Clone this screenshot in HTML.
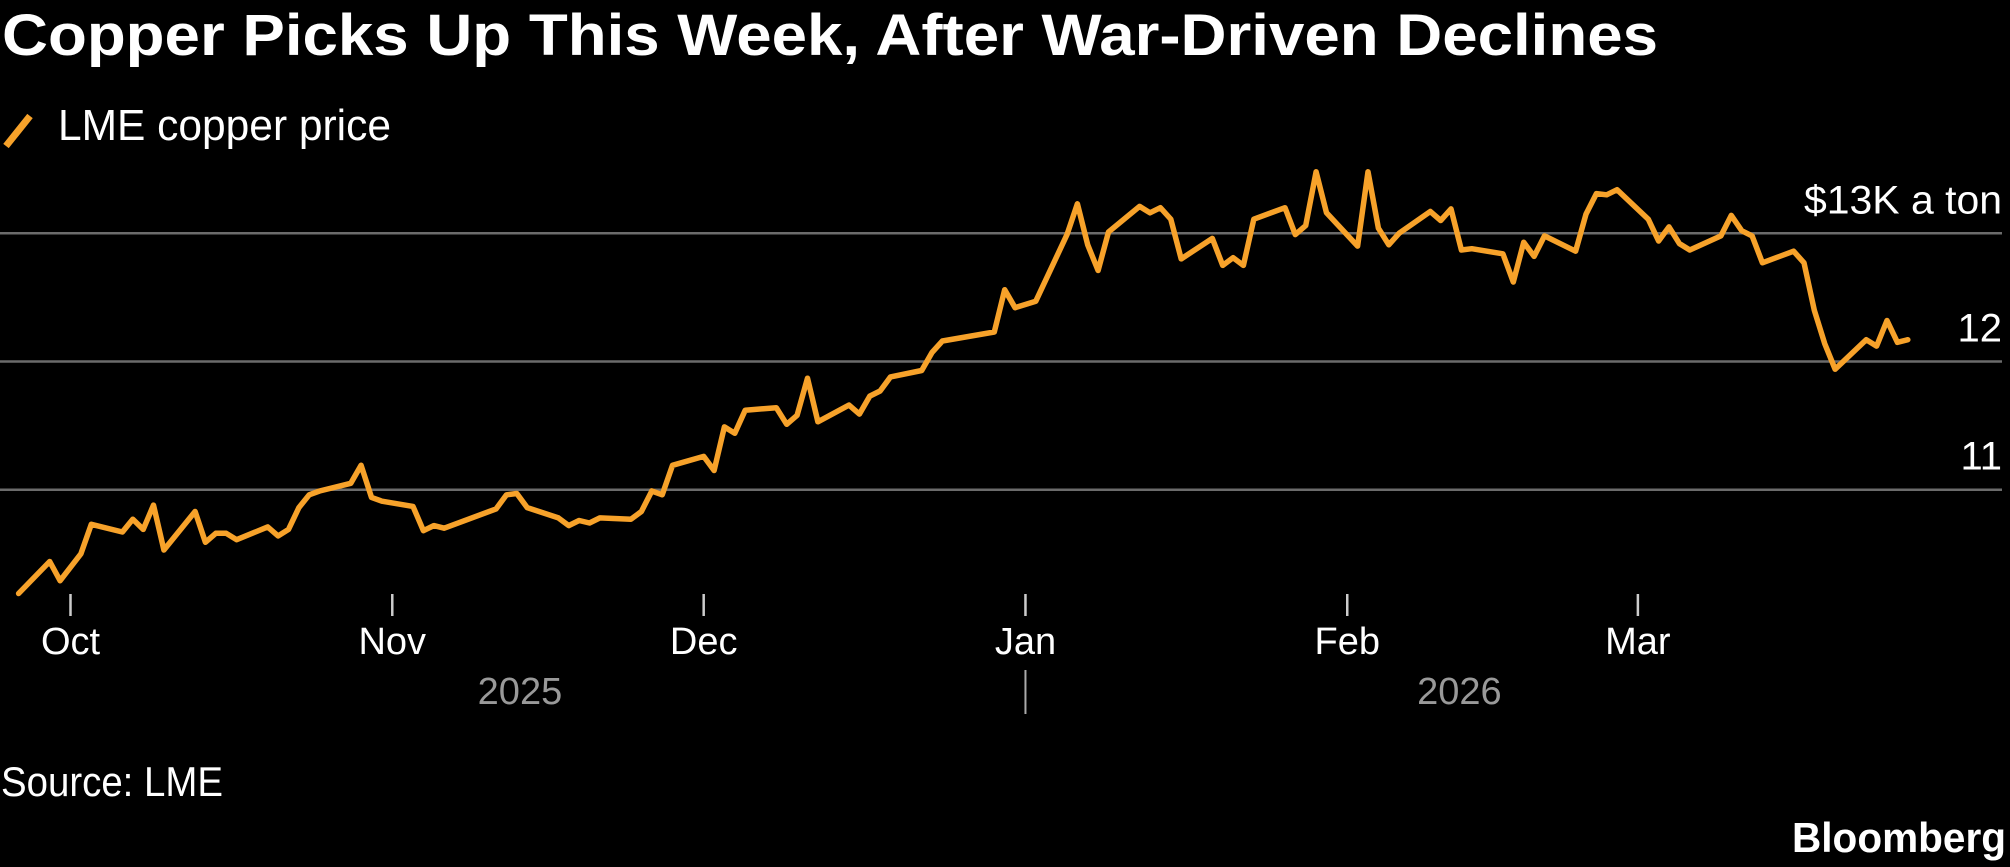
<!DOCTYPE html>
<html><head><meta charset="utf-8"><style>
html,body{margin:0;padding:0;background:#000;}
body{width:2010px;height:867px;overflow:hidden;position:relative;font-family:"Liberation Sans Narrow","Liberation Sans",sans-serif;color:#fff;}
.t{position:absolute;white-space:nowrap;transform-origin:0 0;}
</style></head><body>
<div class="t" id="title" style="left:2px;top:2px;font-size:58px;font-weight:bold;">Copper Picks Up This Week, After War-Driven Declines</div>
<svg width="40" height="44" style="position:absolute;left:0;top:106px"><line x1="6" y1="40" x2="30" y2="10" stroke="#f7a22a" stroke-width="7"/></svg>
<div class="t" id="legend" style="left:58px;top:101px;font-size:44px;">LME copper price</div>
<svg id="chart" width="2010" height="867" style="position:absolute;left:0;top:0"></svg>
<div class="t" id="src" style="left:1px;top:758px;font-size:42px;">Source: LME</div>
<div class="t" id="bb" style="left:1792px;top:814px;font-size:42px;font-weight:bold;">Bloomberg</div>
<script>
const days=[-5,-2,-1,1,2,5,6,7,8,9,12,13,14,15,16,19,20,21,22,23,24,27,28,29,30,33,34,35,36,41,42,43,44,47,48,49,50,51,54,55,56,57,58,61,62,63,64,65,68,69,70,71,72,75,76,77,78,79,82,83,84,89,90,91,93,96,97,98,99,100,103,104,105,106,107,110,111,112,113,114,117,118,119,120,121,124,125,126,127,128,131,132,133,134,135,138,139,140,141,142,145,146,147,148,149,152,153,154,155,156,159,160,161,162,163,166,167,168,169,170,173,174,175,176,177];
const prices=[10190,10440,10290,10500,10730,10670,10770,10690,10880,10530,10830,10590,10660,10660,10610,10710,10640,10690,10860,10960,10990,11050,11190,10940,10910,10870,10680,10720,10700,10850,10960,10970,10860,10780,10720,10760,10740,10780,10770,10830,10990,10960,11190,11260,11150,11490,11440,11620,11640,11510,11580,11870,11530,11660,11590,11730,11770,11880,11930,12070,12160,12230,12560,12420,12470,12990,13230,12910,12710,13010,13210,13160,13200,13110,12800,12960,12750,12810,12750,13110,13200,12990,13060,13480,13160,12900,13480,13040,12910,13000,13170,13100,13190,12870,12880,12840,12620,12930,12820,12980,12860,13150,13310,13300,13340,13110,12940,13050,12920,12870,12980,13140,13020,12980,12770,12860,12770,12400,12140,11940,12170,12120,12320,12150,12170];
const yTicks=[11000,12000,13000];
const yTickLabels=["11","12","$13K a ton"];
const monthDays=[0,31,61,92,123,151];
const monthLabels=["Oct","Nov","Dec","Jan","Feb","Mar"];
const yearLabels=["2025","2026"];
const yearDays=[43.3,133.8];
const svg=document.getElementById('chart');const NS='http://www.w3.org/2000/svg';
const X=d=>70.5+d*10.38;
const Y=v=>233.3+(13000-v)*0.1282;
function fit(id,w){const e=document.getElementById(id);const r=e.getBoundingClientRect().width;e.style.transform='scaleX('+(w/r)+')';}
fit('title',1656);fit('legend',333);fit('src',222);fit('bb',214);
function mk(tag,attrs){const e=document.createElementNS(NS,tag);for(const k in attrs)e.setAttribute(k,attrs[k]);svg.appendChild(e);return e;}
yTicks.forEach((v,i)=>{
 const l=mk('line',{x1:0,x2:2002,y1:Y(v),y2:Y(v),stroke:'#6b6b6b','stroke-width':2.5});
 
 
 const t=mk('text',{x:2002,y:Y(v)-20,'text-anchor':'end',fill:'#fff','font-size':40});
 if(i==2){t.setAttribute('textLength',198);t.setAttribute('lengthAdjust','spacingAndGlyphs');}
 t.textContent=yTickLabels[i];
 
 
});
monthDays.forEach((d,i)=>{
 const l=mk('line',{x1:X(d),x2:X(d),y1:594,y2:616,stroke:'#ccc','stroke-width':2.5});
 
 
 const t=mk('text',{x:X(d),y:654,'text-anchor':'middle',fill:'#fff','font-size':38});
 t.textContent=monthLabels[i];
 
 
});
yearLabels.forEach((lab,i)=>{
 const t=mk('text',{x:X(yearDays[i]),y:704,'text-anchor':'middle',fill:'#999','font-size':38});
 t.textContent=lab;
 
 
});
const sep=mk('line',{x1:X(92),x2:X(92),y1:670,y2:714,stroke:'#aaa','stroke-width':2});


const pts=days.map((d,i)=>X(d).toFixed(1)+','+Y(prices[i]).toFixed(1)).join(' ');
const pl=mk('polyline',{points:pts,fill:'none',stroke:'#f7a22a','stroke-width':5.5,'stroke-linejoin':'round','stroke-linecap':'round'});


</script>
</body></html>
